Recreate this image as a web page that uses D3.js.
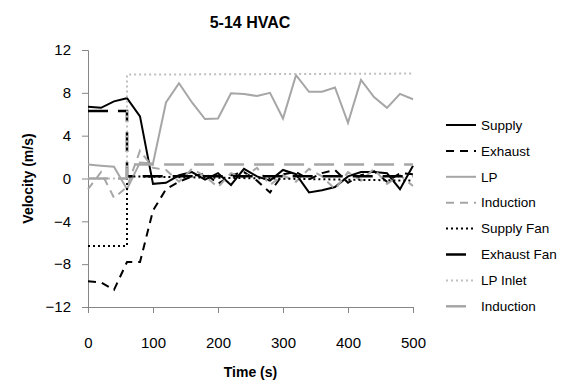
<!DOCTYPE html>
<html>
<head>
<meta charset="utf-8">
<script src="https://cdn.jsdelivr.net/npm/d3@7"></script>
<style>
  body { margin: 0; background: #fff; }
  text { font-family: "Liberation Sans", Arial, sans-serif; }
</style>
</head>
<body>
<div id="chart"></div>
<script>
// sampled series share one time base (s)
var times = [0, 20, 40, 60, 80, 100, 120, 140, 160, 180, 200, 220, 240, 260, 280, 300, 320, 340, 360, 380, 400, 420, 440, 460, 480, 500];
var supply = [6.7, 6.6, 7.2, 7.5, 5.8, -0.5, -0.4, 0.3, 0.6, -0.1, 0.5, -0.6, 0.9, 0.2, -0.2, 0.8, 0.4, -1.3, -1.1, -0.8, 0.2, 0.6, 0.6, 0.5, -1.0, 1.2];
var exhaust = [-9.6, -9.7, -10.4, -7.8, -7.8, -3.0, -1.0, -0.3, 0.2, 0.5, -0.5, 0.3, 0.6, -0.2, -1.3, 0.4, 0.6, -0.1, 0.5, 0.8, -0.4, 0.3, 0.7, -0.3, 0.5, 0.4];
var lp = [1.3, 1.2, 1.1, -1.0, 1.5, 1.4, 7.1, 8.9, 7.1, 5.55, 5.6, 7.95, 7.9, 7.7, 8.0, 5.6, 9.65, 8.1, 8.1, 8.5, 5.2, 9.2, 7.6, 6.6, 7.9, 7.4];
var induction = [-1.0, 0.6, -1.8, -0.8, 2.6, 1.0, 0.8, -0.3, 0.9, 0.2, -0.8, 0.5, 0.1, 1.0, -0.6, 0.3, -0.3, 0.9, 0.2, -1.0, 0.6, -0.2, 0.9, -0.5, 0.3, -0.7];

// step series (fans / inlet) with their own time points
var stepTimes = [0, 60, 60, 500];
var supplyFan = [-6.3, -6.3, 0.2, -0.2];
var exhaustFan = [6.3, 6.3, 0.2, 0.2];
var lpInlet = [0, 0, 9.7, 9.8];
var induction2 = [0, 0, 1.3, 1.3];

var yTicks = [-12, -8, -4, 0, 4, 8, 12];
var xTicks = [0, 100, 200, 300, 400, 500];

var series = [
  {name: "Supply", t: times, v: supply, color: "#000000", dash: null, w: 2},
  {name: "Exhaust", t: times, v: exhaust, color: "#000000", dash: "8,6", w: 2},
  {name: "LP", t: times, v: lp, color: "#a6a6a6", dash: null, w: 2},
  {name: "Induction", t: times, v: induction, color: "#a6a6a6", dash: "8,6", w: 2},
  {name: "Supply Fan", t: stepTimes, v: supplyFan, color: "#000000", dash: "2,3", w: 2},
  {name: "Exhaust Fan", t: stepTimes, v: exhaustFan, color: "#000000", dash: "20,10", w: 2.5},
  {name: "LP Inlet", t: stepTimes, v: lpInlet, color: "#bfbfbf", dash: "2,3", w: 2},
  {name: "Induction", t: stepTimes, v: induction2, color: "#a6a6a6", dash: "20,10", w: 2.5}
];

var W = 567, H = 385;
var margin = {left: 88, right: 154, top: 50, bottom: 78};

var svg = d3.select("#chart").append("svg")
  .attr("width", W)
  .attr("height", H);

var x = d3.scaleLinear().domain([0, 500]).range([margin.left, W - margin.right]);
var y = d3.scaleLinear().domain([-12, 12]).range([H - margin.bottom, margin.top]);

// title
svg.append("text")
  .attr("x", 250)
  .attr("y", 28)
  .attr("text-anchor", "middle")
  .style("font-weight", "bold")
  .style("font-size", "16px")
  .text("5-14 HVAC");

// axes
var yAxis = svg.append("g")
  .attr("transform", "translate(" + margin.left + ",0)")
  .call(d3.axisLeft(y).tickValues(yTicks).tickSize(6).tickPadding(11).tickFormat(d3.format("d")));
yAxis.select(".domain").attr("stroke", "#868686");
yAxis.selectAll(".tick line").attr("stroke", "#868686");
yAxis.selectAll("text").style("font-size", "15px").attr("fill", "#000");

var xAxis = svg.append("g")
  .attr("transform", "translate(0," + y(-12) + ")")
  .call(d3.axisBottom(x).tickValues(xTicks).tickSize(6).tickPadding(24));
xAxis.select(".domain").attr("stroke", "#868686");
xAxis.selectAll(".tick line").attr("stroke", "#868686");
xAxis.selectAll("text").style("font-size", "15px").attr("fill", "#000");

// axis titles
svg.append("text")
  .attr("x", x(250))
  .attr("y", 377)
  .attr("text-anchor", "middle")
  .style("font-weight", "bold")
  .style("font-size", "14px")
  .text("Time (s)");

svg.append("text")
  .attr("transform", "translate(33," + y(0) + ") rotate(-90)")
  .attr("text-anchor", "middle")
  .style("font-weight", "bold")
  .style("font-size", "14px")
  .text("Velocity (m/s)");

// lines
var line = d3.line()
  .x(function(d) { return x(d[0]); })
  .y(function(d) { return y(d[1]); });

svg.append("g").selectAll("path")
  .data(series)
  .enter()
  .append("path")
  .attr("d", function(s) { return line(s.t.map(function(t, i) { return [t, s.v[i]]; })); })
  .attr("fill", "none")
  .attr("stroke", function(s) { return s.color; })
  .attr("stroke-width", function(s) { return s.w; })
  .attr("stroke-dasharray", function(s) { return s.dash; });

// legend
var leg = svg.append("g").selectAll("g")
  .data(series)
  .enter()
  .append("g")
  .attr("transform", function(d, i) { return "translate(446," + (125 + i * 25.9) + ")"; });

leg.append("line")
  .attr("x1", 0)
  .attr("x2", 30)
  .attr("stroke", function(s) { return s.color; })
  .attr("stroke-width", function(s) { return s.w; })
  .attr("stroke-dasharray", function(s) { return s.dash; });

leg.append("text")
  .attr("x", 35)
  .attr("dy", "0.35em")
  .style("font-size", "13.5px")
  .text(function(s) { return s.name; });
</script>
</body>
</html>
